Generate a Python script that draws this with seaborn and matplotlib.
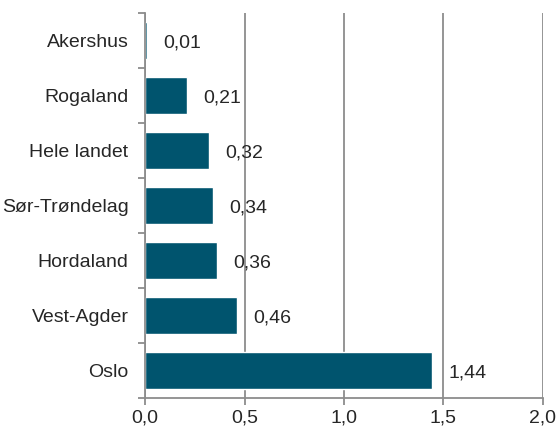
import numpy as np
import pandas as pd
import matplotlib.pyplot as plt
import seaborn as sns
from matplotlib.ticker import MultipleLocator, FixedLocator

regions = ["Akershus", "Rogaland", "Hele landet", "Sør-Trøndelag",
           "Hordaland", "Vest-Agder", "Oslo"]
values = [0.01, 0.21, 0.32, 0.34, 0.36, 0.46, 1.44]

df = pd.DataFrame({"region": regions, "value": values})

sns.set_style("white")
plt.rcParams["font.family"] = ["Liberation Sans", "DejaVu Sans"]
plt.rcParams["font.size"] = 14

fig = plt.figure(figsize=(5.58, 4.30), dpi=100)
ax = fig.add_axes([0.26, 0.0744, 0.713, 0.896])

grid_col = "#8c8c8c"
sns.barplot(data=df, x="value", y="region", color="#00546E", width=0.67,
            saturation=1, ax=ax, zorder=3)

ax.set_xlim(0, 2.0)
ax.set_ylim(len(regions) - 0.5, -0.5)
ax.xaxis.set_major_locator(MultipleLocator(0.5))
ax.xaxis.set_major_formatter(lambda v, p: f"{v:.1f}".replace(".", ","))
ax.grid(axis="x", color=grid_col, linewidth=1.3, zorder=0)
ax.set_axisbelow(True)

for s in ["top", "right"]:
    ax.spines[s].set_visible(False)
for s in ["left", "bottom"]:
    ax.spines[s].set_color(grid_col)
    ax.spines[s].set_linewidth(1.3)
    ax.spines[s].set_zorder(4)

ax.tick_params(axis="x", direction="out", length=5, width=1.3, color=grid_col,
               labelsize=14, pad=3, bottom=True)
ax.tick_params(axis="y", which="major", length=0, labelsize=14, pad=12)
ax.yaxis.set_minor_locator(FixedLocator(np.arange(-0.5, len(regions), 1.0)))
ax.tick_params(axis="y", which="minor", direction="out", length=5, width=1.3,
               color=grid_col, left=True)

for i, v in enumerate(values):
    ax.annotate(f"{v:.2f}".replace(".", ","), (v, i), xytext=(12, -2),
                textcoords="offset points", va="center", ha="left", fontsize=14)

ax.set_xlabel("")
ax.set_ylabel("")
fig.savefig("out.png", dpi=100)
